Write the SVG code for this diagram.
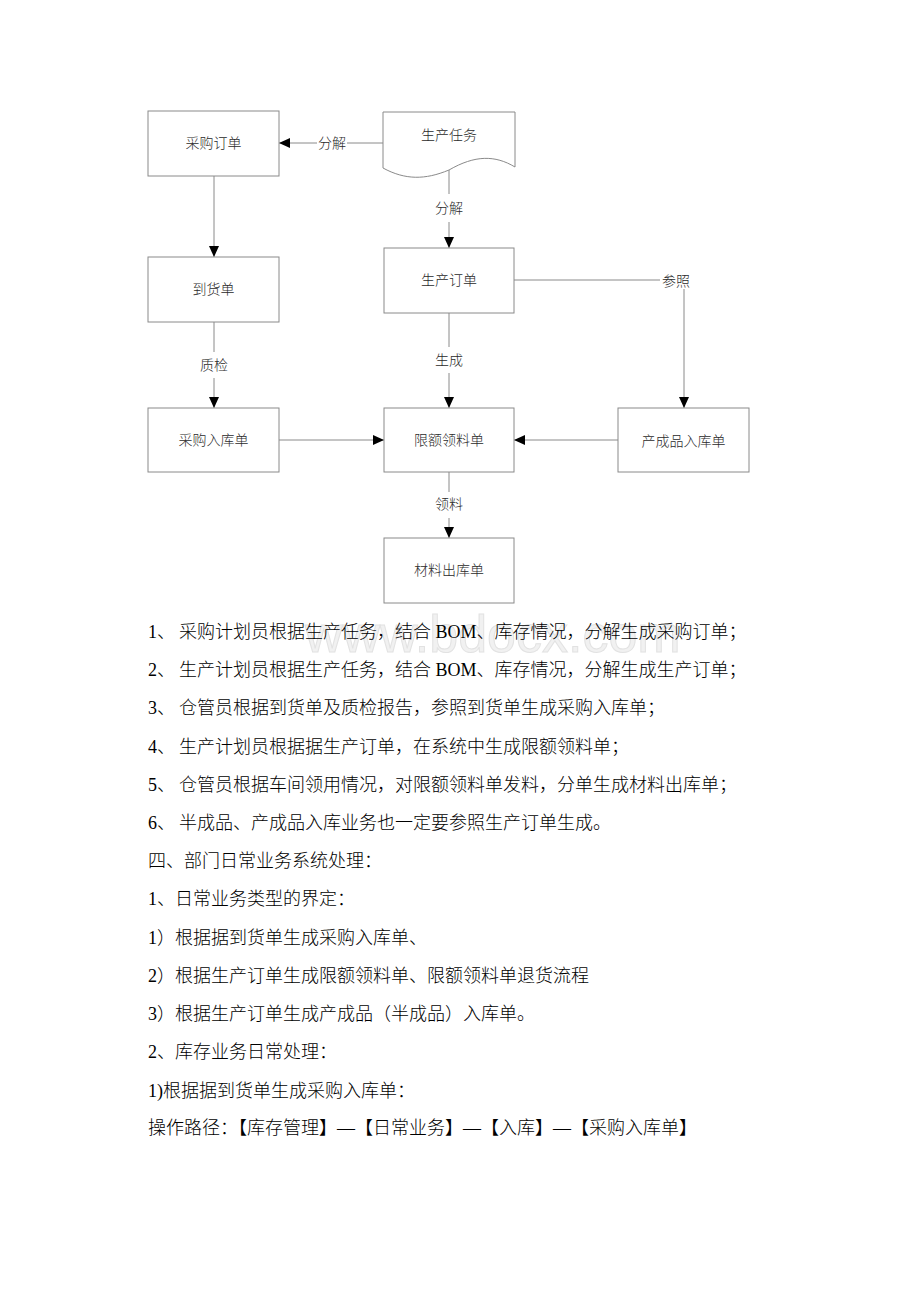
<svg xmlns="http://www.w3.org/2000/svg" width="920" height="1302" viewBox="0 0 920 1302">
<style>
.box{fill:#fff;stroke:#8a8a8a;stroke-width:1}
.ln{fill:none;stroke:#8a8a8a;stroke-width:1}
.lbl{font-family:"Liberation Serif","Noto Sans CJK SC",serif;font-size:14px;font-weight:300;fill:#2a2a2a;text-anchor:middle}
.body{font-family:"Liberation Serif","Noto Sans CJK SC",serif;font-size:18px;font-weight:300;fill:#000}
.wm{font-family:"Liberation Sans","DejaVu Sans",sans-serif;font-size:52px;fill:#f1f1f1;stroke:#e2e2e2;stroke-width:1}
</style>
<defs>
<marker id="ah" markerUnits="userSpaceOnUse" markerWidth="11" markerHeight="10" refX="11" refY="5" orient="auto">
<path d="M0,0 L11,5 L0,10 z" fill="#000"/>
</marker>
</defs>
<rect width="920" height="1302" fill="#fff"/>
<text class="wm" x="305" y="652">www.bdocx.com</text>

<g id="connectors">
<path class="ln" d="M383,143 H347"/>
<path class="ln" d="M317,143 H279" marker-end="url(#ah)"/>
<text class="lbl" x="332" y="148">分解</text>
<path class="ln" d="M449,170 V194"/>
<path class="ln" d="M449,222 V248" marker-end="url(#ah)"/>
<text class="lbl" x="449" y="213">分解</text>
<path class="ln" d="M214,176 V257" marker-end="url(#ah)"/>
<path class="ln" d="M214,322 V352"/>
<path class="ln" d="M214,378 V408" marker-end="url(#ah)"/>
<text class="lbl" x="214" y="370">质检</text>
<path class="ln" d="M449,313 V347"/>
<path class="ln" d="M449,373 V408" marker-end="url(#ah)"/>
<text class="lbl" x="449" y="365">生成</text>
<path class="ln" d="M514,280 H660"/>
<path class="ln" d="M684,289 V408" marker-end="url(#ah)"/>
<text class="lbl" x="676" y="286">参照</text>
<path class="ln" d="M279,440 H384" marker-end="url(#ah)"/>
<path class="ln" d="M618,440 H514" marker-end="url(#ah)"/>
<path class="ln" d="M449,472 V492"/>
<path class="ln" d="M449,518 V538" marker-end="url(#ah)"/>
<text class="lbl" x="449" y="509">领料</text>
</g>

<g id="n-caigou-dingdan">
<rect class="box" x="148" y="111" width="131" height="65"/>
<text class="lbl" x="213.5" y="148">采购订单</text>
</g>
<g id="n-shengchan-renwu">
<path class="box" d="M383,112 H515 V167 C495,155 475,155 449,170 C425,180 405,180 383,168 Z"/>
<text class="lbl" x="449" y="140">生产任务</text>
</g>
<g id="n-daohuo-dan">
<rect class="box" x="148" y="257" width="131" height="65"/>
<text class="lbl" x="213.5" y="294">到货单</text>
</g>
<g id="n-shengchan-dingdan">
<rect class="box" x="384" y="248" width="130" height="65"/>
<text class="lbl" x="449" y="285">生产订单</text>
</g>
<g id="n-caigou-ruku">
<rect class="box" x="148" y="408" width="131" height="64"/>
<text class="lbl" x="213.5" y="445">采购入库单</text>
</g>
<g id="n-xiane-lingliao">
<rect class="box" x="384" y="408" width="130" height="64"/>
<text class="lbl" x="449" y="445">限额领料单</text>
</g>
<g id="n-chanchengpin-ruku">
<rect class="box" x="618" y="408" width="131" height="64"/>
<text class="lbl" x="683.5" y="446">产成品入库单</text>
</g>
<g id="n-cailiao-chuku">
<rect class="box" x="384" y="538" width="130" height="65"/>
<text class="lbl" x="449" y="575">材料出库单</text>
</g>

<g id="body-text">
<text class="body" x="148" y="638">1、</text>
<text class="body" x="179" y="638">采购计划员根据生产任务，结合 BOM、库存情况，分解生成采购订单；</text>
<text class="body" x="148" y="676">2、</text>
<text class="body" x="179" y="676">生产计划员根据生产任务，结合 BOM、库存情况，分解生成生产订单；</text>
<text class="body" x="148" y="714">3、</text>
<text class="body" x="179" y="714">仓管员根据到货单及质检报告，参照到货单生成采购入库单；</text>
<text class="body" x="148" y="753">4、</text>
<text class="body" x="179" y="753">生产计划员根据据生产订单，在系统中生成限额领料单；</text>
<text class="body" x="148" y="791">5、</text>
<text class="body" x="179" y="791">仓管员根据车间领用情况，对限额领料单发料，分单生成材料出库单；</text>
<text class="body" x="148" y="829">6、</text>
<text class="body" x="179" y="829">半成品、产成品入库业务也一定要参照生产订单生成。</text>
<text class="body" x="148" y="867">四、部门日常业务系统处理：</text>
<text class="body" x="148" y="905">1、日常业务类型的界定：</text>
<text class="body" x="148" y="944">1）根据据到货单生成采购入库单、</text>
<text class="body" x="148" y="982">2）根据生产订单生成限额领料单、限额领料单退货流程</text>
<text class="body" x="148" y="1020">3）根据生产订单生成产成品（半成品）入库单。</text>
<text class="body" x="148" y="1058">2、库存业务日常处理：</text>
<text class="body" x="148" y="1097">1)根据据到货单生成采购入库单：</text>
<text class="body" x="148" y="1134">操作路径：【库存管理】—【日常业务】—【入库】—【采购入库单】</text>
</g>
</svg>
